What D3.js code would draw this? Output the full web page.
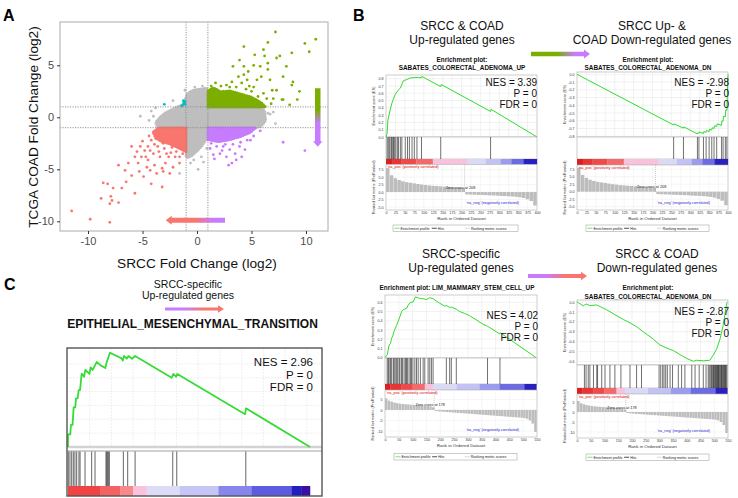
<!DOCTYPE html>
<html>
<head>
<meta charset="utf-8">
<script src="https://cdnjs.cloudflare.com/ajax/libs/d3/7.8.5/d3.min.js"></script>
<style>
body { margin: 0; background: #fff; }
svg { display: block; font-family: 'Liberation Sans', Arial, Helvetica, sans-serif; }
</style>
</head>
<body>
<svg id="fig" width="738" height="498"></svg>
<script>
// ---------- panel A data (log2 fold changes) ----------
var aTicksX = [-10, -5, 0, 5, 10];
var aTicksY = [-10, -5, 0, 5];
var aCut = [-1, 1];
// outlines of the dense cores of the cloud
var grayCore = [[-3.6,-1.0],[-3.8,-0.5],[-3.4,0.0],[-2.9,0.45],[-2.3,0.75],[-1.7,1.05],[-1.25,1.25],[-1.05,1.8],[-0.9,2.25],[-0.5,2.55],[0.1,2.7],[0.9,2.8],[1.0,1.0],[5.6,1.0],[6.2,0.6],[6.3,-0.3],[5.9,-0.85],[5.4,-1.0],[1.0,-1.0],[0.8,-2.2],[0.4,-2.8],[0.0,-3.25],[-0.5,-3.7],[-0.85,-3.9],[-1.0,-3.7],[-1.0,-1.0]];
var redCore = [[-1.0,-1.0],[-3.5,-1.0],[-4.0,-1.4],[-3.8,-2.0],[-3.2,-2.35],[-2.5,-2.55],[-1.8,-2.9],[-1.0,-3.3]];
var greenCore = [[1.0,1.0],[1.0,2.55],[1.5,2.85],[2.2,2.45],[3.0,2.55],[4.0,2.25],[5.0,1.95],[5.9,1.4],[6.3,1.0]];
var purpleCore = [[1.0,-1.0],[1.0,-2.15],[2.0,-2.35],[3.0,-2.15],[4.0,-1.85],[4.9,-1.45],[5.4,-1.0]];
var grayPts = [[-5.2,0.1],[-4.2,0.6],[-4.0,0.1],[-1.6,-5.4],[0.1,-5.0],[-0.6,-4.4],[-0.3,-4.1],[0.4,-3.8],[0.6,-4.3],[-1.1,2.6],[6.1,0.7],[6.5,0.4],[6.2,-0.1],[7.2,-0.6],[6.7,0.3],[5.5,0.9],[7.0,0.5],[5.8,-0.5],[-0.8,-3.2],[0.9,-3.0],[-3.8,0.9],[-2.2,1.6],[-4.4,-0.3],[-0.2,2.9],[0.5,3.0]];
var redPts = [[-11.5,-9.0],[-9.8,-9.8],[-8.0,-10.1],[-8.8,-7.8],[-8.6,-6.3],[-8.2,-6.4],[-7.9,-7.6],[-8.0,-8.3],[-7.8,-8.0],[-7.2,-8.2],[-7.7,-6.8],[-7.2,-4.6],[-6.9,-6.8],[-6.5,-6.2],[-6.6,-5.1],[-6.3,-4.4],[-6.0,-5.6],[-5.7,-7.3],[-5.7,-3.8],[-5.5,-3.3],[-5.4,-4.4],[-5.3,-5.2],[-5.2,-2.8],[-5.1,-3.8],[-4.9,-5.7],[-4.6,-4.8],[-4.5,-4.1],[-4.3,-5.1],[-4.2,-6.4],[-4.0,-3.5],[-3.9,-4.6],[-3.7,-5.4],[-3.6,-2.8],[-3.4,-3.8],[-3.2,-4.9],[-3.1,-5.2],[-2.9,-4.4],[-2.8,-3.5],[-2.6,-3.8],[-2.5,-5.4],[-2.2,-4.8],[-2.0,-3.8],[-1.9,-3.3],[-1.6,-4.4],[-1.3,-3.5],[-3.2,-6.7],[-4.7,-3.8],[-4.5,-2.8],[-3.1,-2.5],[-3.7,-1.9],[-4.0,-1.5],[-4.2,-2.2],[-6.0,-2.8],[-4.8,-3.2],[-3.0,-3.0],[-2.3,-2.9],[-1.5,-2.8],[-1.2,-3.0],[-3.9,-2.6],[-2.7,-2.1],[-4.4,-1.8],[-3.3,-1.6],[-1.6,-3.8],[-2.4,-3.4],[-5.0,-2.3],[-4.3,-3.2],[-3.5,-3.3]];
var greenPts = [[7.2,8.2],[6.5,7.2],[6.1,6.5],[6.2,5.9],[5.3,6.0],[5.2,5.0],[6.5,5.2],[6.5,4.6],[7.3,5.7],[6.7,3.6],[6.9,2.6],[7.3,2.6],[7.8,1.7],[7.9,3.9],[8.2,4.9],[8.8,3.4],[9.4,2.5],[8.7,3.1],[8.7,6.2],[9.9,7.1],[10.3,6.3],[10.9,7.5],[7.6,5.9],[5.8,4.9],[5.9,3.9],[5.5,3.6],[5.2,2.9],[5.0,2.5],[6.1,2.3],[6.4,1.8],[5.6,2.0],[7.0,1.8],[9.2,1.7],[7.9,1.7],[4.3,6.8],[3.9,5.5],[3.3,4.9],[4.3,4.9],[3.8,3.9],[4.3,4.1],[4.7,4.4],[3.2,3.4],[1.7,3.3],[1.8,2.6],[2.4,2.5],[3.6,2.9],[4.1,3.3],[4.6,3.6],[2.7,3.1],[4.5,2.7],[3.0,2.9],[2.2,3.0],[1.3,3.0],[5.5,1.6],[6.8,1.3],[8.5,1.2],[4.8,3.0]];
var purplePts = [[1.2,-3.0],[1.8,-2.8],[1.5,-3.6],[2.1,-3.5],[2.7,-3.8],[3.0,-3.1],[3.5,-3.5],[3.2,-4.4],[2.9,-4.6],[3.6,-4.1],[4.1,-3.8],[4.4,-3.1],[3.9,-2.8],[2.4,-2.8],[4.6,-2.2],[5.8,-1.3],[7.9,-2.4],[9.9,-3.2],[4.9,-2.2],[1.3,-2.5],[2.3,-3.2],[3.3,-2.6],[5.2,-1.8],[1.6,-4.0],[2.6,-2.6],[4.0,-2.4]];
var cyanPts = [[-3.0,1.25],[-1.3,1.2],[-1.2,1.4],[-1.1,1.5],[-1.25,1.6],[-1.1,1.25],[-1.4,1.1]];

// ---------- GSEA data ----------
var rank400 = [0,25,50,75,100,125,150,175,200,225,250,275,300,325,350,375,400];
var rank550 = [0,50,100,150,200,250,300,350,400,450,500,550];
var esTicksB1 = [0,0.1,0.2,0.3,0.4,0.5,0.6,0.7,0.8];
var esTicksB2 = [0,-0.1,-0.2,-0.3,-0.4,-0.5,-0.6,-0.7,-0.8];
var esTicksB3 = [0,0.1,0.2,0.3,0.4,0.5,0.6];
var esTicksB4 = [0,-0.1,-0.2,-0.3,-0.4,-0.5,-0.6];
var metTicks400 = [-5,-2.5,0,2.5,5,7.5];
var metTicks550 = [-10,-5,0,5];

// ranked list metric, one value per 10 ranks
var metricUp = [8.0,5.6,4.6,4.0,3.6,3.3,3.1,2.9,2.7,2.5,2.35,2.2,2.1,2.0,1.9,1.8,1.7,1.6,1.5,1.4,1.3,-0.8,-0.85,-0.9,-0.95,-1.0,-1.05,-1.1,-1.15,-1.2,-1.3,-1.35,-1.4,-1.5,-1.6,-1.75,-2.0,-2.4,-3.0,-4.5];
var metricStem = [5.5,4.4,3.9,3.5,3.2,3.0,2.8,2.7,2.6,2.5,2.4,2.3,2.2,2.1,2.0,1.9,1.7,1.3,-0.5,-0.7,-0.8,-0.9,-1.0,-1.1,-1.2,-1.3,-1.4,-1.5,-1.6,-1.7,-1.8,-1.9,-2.0,-2.1,-2.2,-2.3,-2.4,-2.5,-2.6,-2.7,-2.8,-2.9,-3.0,-3.1,-3.2,-3.3,-3.4,-3.5,-3.6,-3.7,-3.9,-4.2,-5.0,-6.5,-10.5];

// colour bar of the ranked list: [from rank, to rank, colour]
var barUp = [[0,16,'#dc2020'],[16,40,'#e83434'],[40,80,'#ef4a4a'],[80,124,'#f46a6a'],[124,216,'#f9c2dc'],[216,264,'#dadaf5'],[264,304,'#c2c2f5'],[304,332,'#9c9cef'],[332,364,'#6c6ce2'],[364,400,'#2a1fbf']];
var barStem = [[0,20,'#dc2020'],[20,60,'#e83434'],[60,100,'#ef4a4a'],[100,144,'#f46a6a'],[144,175,'#f9c2dc'],[175,259,'#dadaf5'],[259,342,'#c2c2f5'],[342,414,'#9c9cef'],[414,504,'#6c6ce2'],[504,548,'#2a1fbf']];
var barC = [[0,29.5,'#f04444'],[29.5,48,'#f46262'],[48,60,'#f68a8a'],[60,72.5,'#fbc2dc'],[72.5,103,'#dcdcf6'],[103,138.6,'#c6c6f6'],[138.6,169.3,'#8686ee'],[169.3,206,'#5c5ce0'],[206,215.3,'#2020c0'],[215.3,223,'#3a10a0']];

var b1Es = [[0,0],[3,0.05],[5,0.23],[11,0.37],[16,0.47],[24,0.58],[32,0.64],[38,0.67],[46,0.77],[56,0.79],[64,0.81],[75,0.815],[86,0.815],[94,0.812],[95,0.83],[145,0.69],[146,0.72],[277,0.35],[278,0.38],[400,0]];
var b1Hits = [3,6,9,13,15,18,20,23,26,30,33,38,42,51,57,62,69,75,82,94,145,277];
var b2Es = [[0,0],[256,-0.655],[257,-0.64],[282,-0.695],[283,-0.68],[319,-0.77],[320,-0.755],[323,-0.76],[324,-0.745],[335,-0.765],[336,-0.74],[342,-0.75],[343,-0.725],[350,-0.74],[351,-0.71],[357,-0.72],[358,-0.69],[363,-0.70],[364,-0.665],[370,-0.675],[371,-0.64],[383,-0.66],[384,-0.60],[387,-0.605],[388,-0.54],[393,-0.55],[394,-0.46],[397,-0.465],[398,-0.30],[400,0]];
var b2Hits = [256,282,319,323,335,342,350,357,363,370,383,387,393,397];
var b3Es = [[0,0],[8,0.03],[15,0.135],[20,0.155],[24,0.21],[28,0.235],[32,0.28],[42,0.35],[54,0.445],[60,0.5],[66,0.52],[78,0.535],[84,0.57],[90,0.595],[102,0.605],[110,0.66],[120,0.65],[128,0.64],[138,0.64],[150,0.63],[162,0.65],[174,0.64],[186,0.615],[198,0.59],[216,0.56],[222,0.565],[234,0.545],[240,0.55],[258,0.525],[270,0.5],[288,0.48],[306,0.455],[330,0.41],[353,0.365],[371,0.34],[377,0.33],[416,0.255],[417,0.27],[546,0]];
var b3Hits = [8,12,15,20,24,30,33,37,42,46,51,54,60,63,69,74,78,81,87,92,96,101,108,114,120,128,138,144,156,162,168,174,222,234,240,258,371,416];
var b4Es = [[0,0],[5,-0.007],[23,-0.04],[27,-0.03],[35,-0.02],[47,-0.036],[72,-0.03],[84,-0.046],[108,-0.079],[132,-0.118],[169,-0.177],[193,-0.21],[217,-0.249],[241,-0.30],[278,-0.374],[302,-0.433],[327,-0.465],[351,-0.49],[375,-0.53],[400,-0.57],[424,-0.597],[436,-0.587],[460,-0.593],[484,-0.587],[496,-0.537],[509,-0.472],[521,-0.374],[533,-0.226],[545,-0.013],[548,0]];
var b4Hits = [27,33,41,47,60,72,75,90,102,120,138,160,193,217,235,299,305,312,317,323,329,339,348,369,381,393,418,430,445,460,470,478,482,487,490,494,497,499,502,504,507,509,512,514,516,518,521,524,526,528,531,533,536,538,541,543,546];

var cEs = [[0,0],[0,0.091],[2.1,0.091],[2.7,0.159],[4.2,0.159],[5.2,0.286],[6.7,0.286],[7.4,0.351],[8.9,0.351],[9.8,0.411],[11.1,0.411],[12.0,0.483],[12.6,0.53],[14.8,0.507],[16.0,0.556],[19.7,0.527],[20.9,0.575],[22.7,0.556],[26.4,0.613],[30.1,0.589],[34.4,0.57],[35.6,0.611],[38.7,0.68],[49.4,0.64],[50.4,0.623],[51.6,0.657],[54.1,0.637],[55.6,0.657],[59.0,0.637],[61.8,0.657],[95.5,0.5],[97.1,0.527],[99.5,0.507],[100.7,0.527],[163.1,0.236],[164.0,0.279],[223,0]];
var cHits = [0.3,1.8,3.4,4.9,6.4,8.0,10.1,11.1,15.7,21.8,24.9,35.0,35.6,36.3,37.2,38.1,51.0,55.0,61.8,96.5,100.2,163.8];
var cGridX = [20,40,60,80,100,120,140,160,180,200,220];
var cGridY = [0.1,0.2,0.3,0.4,0.5,0.6];

var legendItems = [['Enrichment profile','#33dd33'],['Hits','#000'],['Ranking metric scores','#c8c8c8']];

var svg = d3.select('#fig');
var defs = svg.append('defs');
var fmt1 = function(d) { return d.toFixed(1); };
var fmt0 = function(d) { return String(d); };

// gradient arrow from (x0,y0) to tip (x1,y1)
var gradId = 0;
var arrow = function(x0, y0, x1, y1, thick, headW, headL, stops) {
    var len = Math.hypot(x1 - x0, y1 - y0);
    var ang = Math.atan2(y1 - y0, x1 - x0) * 180 / Math.PI;
    var id = 'ag' + (gradId++);
    var lg = defs.append('linearGradient').attr('id', id).attr('x1', 0).attr('y1', 0).attr('x2', 1).attr('y2', 0);
    stops.forEach(function(s) { lg.append('stop').attr('offset', s[0]).attr('stop-color', s[1]); });
    var t = thick / 2, h = headW / 2, b = len - headL;
    var pts = [[0,-t],[b,-t],[b,-h],[len,0],[b,h],[b,t],[0,t]];
    svg.append('path').attr('d', 'M' + pts.join('L') + 'Z')
        .attr('transform', 'translate(' + x0 + ',' + y0 + ') rotate(' + ang + ')')
        .attr('fill', 'url(#' + id + ')');
};
var RED = '#f8766d', GREEN = '#7cae00', PURPLE = '#c77cff', CYAN = '#00bfc4', GRAY = '#bebebe';

// ---------- panel A ----------
var ax = d3.scaleLinear().domain([-12.57, 12.02]).range([60, 328]);
var ay = d3.scaleLinear().domain([-10.93, 9.16]).range([231, 22]);
var pA = svg.append('g');
defs.append('clipPath').attr('id', 'clipA').append('rect').attr('x', 60).attr('y', 22).attr('width', 268).attr('height', 209);
var pts = pA.append('g').attr('clip-path', 'url(#clipA)');
var outline = d3.line().x(function(d) { return ax(d[0]); }).y(function(d) { return ay(d[1]); }).curve(d3.curveLinearClosed);
var cloud = function(data, color) {
    pts.append('path').attr('d', outline(data)).attr('fill', color);
    // speckled rim so the core reads as packed dots
    pts.append('path').attr('d', outline(data)).attr('fill', 'none').attr('stroke', color)
        .attr('stroke-width', 3).attr('stroke-linecap', 'round').attr('stroke-dasharray', '0,2.4');
};
var dots = function(data, color) {
    pts.append('g').selectAll('circle').data(data).join('circle')
        .attr('cx', function(d) { return ax(d[0]); }).attr('cy', function(d) { return ay(d[1]); })
        .attr('r', 1.4).attr('fill', color);
};
cloud(grayCore, GRAY); dots(grayPts, GRAY);
cloud(redCore, RED); dots(redPts, RED);
cloud(greenCore, GREEN); dots(greenPts, GREEN);
cloud(purpleCore, PURPLE); dots(purplePts, PURPLE);
dots(cyanPts, CYAN);
aCut.forEach(function(c) {
    pA.append('line').attr('x1', ax(c)).attr('x2', ax(c)).attr('y1', 22).attr('y2', 231)
        .attr('stroke', '#888').attr('stroke-width', 0.9).attr('stroke-dasharray', '1.2,1.3');
    pA.append('line').attr('x1', 60).attr('x2', 328).attr('y1', ay(c)).attr('y2', ay(c))
        .attr('stroke', '#888').attr('stroke-width', 0.9).attr('stroke-dasharray', '1.2,1.3');
});
pA.append('rect').attr('x', 60).attr('y', 22).attr('width', 268).attr('height', 209)
    .attr('fill', 'none').attr('stroke', '#b3b3b3').attr('stroke-width', 1.1);
var styleAxis = function(g, size, color) {
    g.select('.domain').remove();
    g.attr('font-family', null).attr('font-size', size);
    g.selectAll('text').attr('fill', color);
    g.selectAll('line').attr('stroke', '#333');
};
pA.append('g').attr('transform', 'translate(0,231)')
    .call(d3.axisBottom(ax).tickValues(aTicksX).tickSize(3).tickPadding(3).tickFormat(fmt0))
    .call(function(g) { styleAxis(g, 11, '#4d4d4d'); });
pA.append('g').attr('transform', 'translate(60,0)')
    .call(d3.axisLeft(ay).tickValues(aTicksY).tickSize(3).tickPadding(3).tickFormat(fmt0))
    .call(function(g) { styleAxis(g, 11, '#4d4d4d'); });
pA.append('text').attr('x', 197).attr('y', 268).attr('text-anchor', 'middle').attr('font-size', 13.7).attr('fill', '#111').text('SRCC Fold Change (log2)');
pA.append('text').attr('transform', 'translate(38,127) rotate(-90)').attr('text-anchor', 'middle').attr('font-size', 13.7).attr('fill', '#111').text('TCGA COAD Fold Change (log2)');
arrow(ax(2.57), ay(-9.9), ax(-2.87), ay(-9.9), 5, 9, 6, [[0, PURPLE], [0.2, PURPLE], [0.5, RED], [1, RED]]);
arrow(ax(11.08), ay(2.79), ax(11.08), ay(-2.83), 5.5, 9.5, 5.5, [[0, GREEN], [0.37, GREEN], [0.6, PURPLE], [1, PURPLE]]);

// ---------- panel B ----------
var gsea = function(o) {
    var x = d3.scaleLinear().domain([0, o.rankMax]).range([o.x0, o.x1]);
    var y = d3.scaleLinear().domain(o.esDomain).range([o.esBot, o.esTop]);
    var my = d3.scaleLinear().domain(o.metDomain).range([o.metBot, o.barBot]);
    var w = o.x1 - o.x0;
    return {
        draw: function(elem) {
            var g = elem.append('g');
            o.title.forEach(function(t, i) {
                g.append('text').attr('x', o.titleX).attr('y', o.titleY[i]).attr('text-anchor', 'middle')
                    .attr('font-size', 12).attr('fill', '#111').text(t);
            });
            o.setName.forEach(function(t, i) {
                g.append('text').attr('x', o.nameX).attr('y', o.nameY[i]).attr('text-anchor', 'middle')
                    .attr('font-size', 6.4).attr('font-weight', 'bold').attr('fill', '#111').text(t);
            });
            // enrichment score panel
            g.append('rect').attr('x', o.x0).attr('y', o.esTop).attr('width', w).attr('height', o.esBot - o.esTop)
                .attr('fill', '#fff').attr('stroke', '#aaa').attr('stroke-width', 0.6);
            g.append('g').selectAll('line').data(o.rankTicks.slice(1, -1)).join('line')
                .attr('x1', x).attr('x2', x).attr('y1', o.esTop).attr('y2', o.esBot)
                .attr('stroke', '#e4e4e4').attr('stroke-width', 0.5);
            g.append('g').selectAll('line').data(o.esTicks).join('line')
                .attr('x1', o.x0).attr('x2', o.x1).attr('y1', y).attr('y2', y)
                .attr('stroke', '#e4e4e4').attr('stroke-width', 0.5);
            g.append('path').datum(o.es)
                .attr('d', d3.line().x(function(d) { return x(d[0]); }).y(function(d) { return y(d[1]); }))
                .attr('fill', 'none').attr('stroke', '#2fdc2f').attr('stroke-width', 1);
            g.append('g').attr('transform', 'translate(' + (o.x0 - 1) + ',0)')
                .call(d3.axisLeft(y).tickValues(o.esTicks).tickSize(0).tickPadding(1.5).tickFormat(fmt1))
                .call(function(a) { styleAxis(a, 3.6, '#333'); });
            // hits
            g.append('rect').attr('x', o.x0).attr('y', o.esBot).attr('width', w).attr('height', o.hitBot - o.esBot)
                .attr('fill', '#fff').attr('stroke', '#aaa').attr('stroke-width', 0.6);
            g.append('g').selectAll('line').data(o.hits).join('line')
                .attr('x1', x).attr('x2', x).attr('y1', o.esBot).attr('y2', o.hitBot)
                .attr('stroke', '#111').attr('stroke-width', 0.6);
            // colour bar
            g.append('g').selectAll('rect').data(o.bar).join('rect')
                .attr('x', function(d) { return x(d[0]); }).attr('width', function(d) { return x(d[1]) - x(d[0]) + 0.2; })
                .attr('y', o.hitBot).attr('height', o.barBot - o.hitBot).attr('fill', function(d) { return d[2]; });
            // ranked list metric
            g.append('rect').attr('x', o.x0).attr('y', o.barBot).attr('width', w).attr('height', o.metBot - o.barBot)
                .attr('fill', '#fff').attr('stroke', '#aaa').attr('stroke-width', 0.6);
            g.append('g').selectAll('line').data(o.rankTicks.slice(1, -1)).join('line')
                .attr('x1', x).attr('x2', x).attr('y1', o.barBot).attr('y2', o.metBot)
                .attr('stroke', '#ececec').attr('stroke-width', 0.5);
            g.append('g').selectAll('line').data(o.metTicks).join('line')
                .attr('x1', o.x0).attr('x2', o.x1).attr('y1', my).attr('y2', my)
                .attr('stroke', '#ececec').attr('stroke-width', 0.5);
            g.append('g').selectAll('rect').data(o.metric).join('rect')
                .attr('x', function(d, i) { return x(i * 10); })
                .attr('width', function(d, i) { return x((i + 1) * 10) - x(i * 10) - 0.25; })
                .attr('y', function(d) { return my(Math.max(d, 0)); })
                .attr('height', function(d) { return Math.abs(my(d) - my(0)); })
                .attr('fill', '#bdbdbd');
            g.append('line').attr('x1', x(o.zero)).attr('x2', x(o.zero)).attr('y1', o.barBot).attr('y2', my(0))
                .attr('stroke', '#999').attr('stroke-width', 0.5).attr('stroke-dasharray', '1,1');
            g.append('text').attr('x', x(o.zero) - 4).attr('y', my(0) - 3.5).attr('text-anchor', 'middle')
                .attr('font-size', 3.8).attr('fill', '#222').text('Zero cross at ' + o.zero);
            g.append('text').attr('x', o.x0 + 1.5).attr('y', o.barBot + 3.6)
                .attr('font-size', 3.8).attr('fill', '#e00000').text("'na_pos' (positively correlated)");
            g.append('text').attr('x', o.x1 - 18).attr('y', o.metBot - 6).attr('text-anchor', 'end')
                .attr('font-size', 3.8).attr('fill', '#2424d0').text("'na_neg' (negatively correlated)");
            g.append('g').attr('transform', 'translate(' + (o.x0 - 1) + ',0)')
                .call(d3.axisLeft(my).tickValues(o.metTicks).tickSize(0).tickPadding(1.5).tickFormat(o.metFmt))
                .call(function(a) { styleAxis(a, 3.6, '#333'); });
            g.append('g').attr('transform', 'translate(0,' + o.metBot + ')')
                .call(d3.axisBottom(x).tickValues(o.rankTicks).tickSize(0).tickPadding(1.5).tickFormat(fmt0))
                .call(function(a) { styleAxis(a, 3.6, '#333'); });
            g.append('text').attr('x', (o.x0 + o.x1) / 2).attr('y', o.metBot + 10).attr('text-anchor', 'middle')
                .attr('font-size', 4.4).attr('fill', '#333').text('Rank in Ordered Dataset');
            g.append('text').attr('transform', 'translate(' + (o.x0 - 11) + ',' + ((o.esTop + o.esBot) / 2) + ') rotate(-90)')
                .attr('text-anchor', 'middle').attr('font-size', 3.9).attr('fill', '#333').text('Enrichment score (ES)');
            g.append('text').attr('transform', 'translate(' + (o.x0 - 11) + ',' + ((o.barBot + o.metBot) / 2) + ') rotate(-90)')
                .attr('text-anchor', 'middle').attr('font-size', 3.9).attr('fill', '#333').text('Ranked list metric (PreRanked)');
            // legend
            var lw = o.legX1 - o.legX0;
            var slots = [0.012, 0.31, 0.575];
            g.append('rect').attr('x', o.legX0).attr('y', o.legY).attr('width', lw).attr('height', 6.5)
                .attr('fill', '#fff').attr('stroke', '#999').attr('stroke-width', 0.5);
            var li = g.append('g').selectAll('g').data(legendItems).join('g')
                .attr('transform', function(d, i) { return 'translate(' + (o.legX0 + slots[i] * lw) + ',' + (o.legY + 3.25) + ')'; });
            li.append('line').attr('x1', 0).attr('x2', 5).attr('stroke', function(d) { return d[1]; }).attr('stroke-width', 0.7);
            li.append('text').attr('x', 6).attr('y', 1.3).attr('font-size', 3.6).attr('fill', '#222').text(function(d) { return d[0]; });
            // statistics
            o.stats.forEach(function(t, i) {
                g.append('text').attr('x', o.statX).attr('y', o.statY + i * 11).attr('text-anchor', 'end')
                    .attr('font-size', 10).attr('fill', '#111').text(t);
            });
        }
    };
};

gsea({ x0: 386, x1: 537, esTop: 75, esBot: 137, hitBot: 159, barBot: 164.5, metBot: 210, rankMax: 400,
    esDomain: [0, 0.85], esTicks: esTicksB1, rankTicks: rank400, metDomain: [-6, 9.2], metTicks: metTicks400, metFmt: fmt1,
    es: b1Es, hits: b1Hits, metric: metricUp, bar: barUp, zero: 208,
    title: ['SRCC & COAD', 'Up-regulated genes'], titleX: 462, titleY: [29.5, 43.5],
    setName: ['Enrichment plot:', 'SABATES_COLORECTAL_ADENOMA_UP'], nameX: 462, nameY: [62, 69.5],
    stats: ['NES = 3.39', 'P = 0', 'FDR = 0'], statX: 537, statY: 85.5,
    legX0: 393, legX1: 518, legY: 225 }).draw(svg);

gsea({ x0: 577, x1: 728, esTop: 72, esBot: 137, hitBot: 159, barBot: 165, metBot: 210, rankMax: 400,
    esDomain: [-0.81, 0.03], esTicks: esTicksB2, rankTicks: rank400, metDomain: [-6.1, 8.9], metTicks: metTicks400, metFmt: fmt1,
    es: b2Es, hits: b2Hits, metric: metricUp, bar: barUp, zero: 208,
    title: ['SRCC Up- &', 'COAD Down-regulated genes'], titleX: 652, titleY: [29.5, 43.5],
    setName: ['Enrichment plot:', 'SABATES_COLORECTAL_ADENOMA_DN'], nameX: 648, nameY: [62, 69.5],
    stats: ['NES = -2.98', 'P = 0', 'FDR = 0'], statX: 729, statY: 85.5,
    legX0: 586, legX1: 709, legY: 225 }).draw(svg);

gsea({ x0: 385, x1: 537, esTop: 295, esBot: 358, hitBot: 384, barBot: 390, metBot: 437, rankMax: 550,
    esDomain: [-0.005, 0.68], esTicks: esTicksB3, rankTicks: rank550, metDomain: [-12.9, 9.5], metTicks: metTicks550, metFmt: fmt0,
    es: b3Es, hits: b3Hits, metric: metricStem, bar: barStem, zero: 178,
    title: ['SRCC-specific', 'Up-regulated genes'], titleX: 461, titleY: [258, 272],
    setName: ['Enrichment plot: LIM_MAMMARY_STEM_CELL_UP'], nameX: 457, nameY: [289.5],
    stats: ['NES = 4.02', 'P = 0', 'FDR = 0'], statX: 538, statY: 318.5,
    legX0: 394, legX1: 517, legY: 453.5 }).draw(svg);

gsea({ x0: 577, x1: 728, esTop: 300, esBot: 365, hitBot: 388, barBot: 394, metBot: 438, rankMax: 550,
    esDomain: [-0.635, 0.02], esTicks: esTicksB4, rankTicks: rank550, metDomain: [-13, 9], metTicks: metTicks550, metFmt: fmt0,
    es: b4Es, hits: b4Hits, metric: metricStem, bar: barStem, zero: 178,
    title: ['SRCC & COAD', 'Down-regulated genes'], titleX: 657, titleY: [258, 272],
    setName: ['Enrichment plot:', 'SABATES_COLORECTAL_ADENOMA_DN'], nameX: 648, nameY: [289.5, 298.5],
    stats: ['NES = -2.87', 'P = 0', 'FDR = 0'], statX: 729, statY: 314.5,
    legX0: 586, legX1: 709, legY: 454 }).draw(svg);

arrow(531, 54, 590, 54, 4.3, 9, 6, [[0, GREEN], [0.45, GREEN], [0.75, PURPLE], [1, PURPLE]]);
arrow(528, 276, 587, 276, 4.2, 8.5, 6, [[0, PURPLE], [0.3, PURPLE], [0.65, RED], [1, RED]]);

// ---------- panel C ----------
var cx = d3.scaleLinear().domain([0, 234]).range([68, 322]);
var cy = d3.scaleLinear().domain([0, 0.7]).range([447, 350]);
var pC = svg.append('g');
pC.append('text').attr('x', 188).attr('y', 287.5).attr('text-anchor', 'middle').attr('font-size', 10.5).attr('fill', '#111').text('SRCC-specific');
pC.append('text').attr('x', 188).attr('y', 298.5).attr('text-anchor', 'middle').attr('font-size', 10.5).attr('fill', '#111').text('Up-regulated genes');
pC.append('text').attr('x', 192.5).attr('y', 327.5).attr('text-anchor', 'middle').attr('font-size', 12).attr('font-weight', 'bold').attr('fill', '#111').text('EPITHELIAL_MESENCHYMAL_TRANSITION');
arrow(165, 309, 224, 309, 3.2, 7.5, 6, [[0, PURPLE], [0.33, PURPLE], [0.65, RED], [1, RED]]);
pC.append('rect').attr('x', 67).attr('y', 348).attr('width', 255).attr('height', 148).attr('fill', '#fff');
pC.append('g').selectAll('line').data(cGridX).join('line')
    .attr('x1', cx).attr('x2', cx).attr('y1', 348).attr('y2', 446)
    .attr('stroke', '#e6e6e6').attr('stroke-width', 0.6).attr('stroke-dasharray', '2,1');
pC.append('g').selectAll('line').data(cGridY).join('line')
    .attr('x1', 67).attr('x2', 322).attr('y1', cy).attr('y2', cy)
    .attr('stroke', '#e6e6e6').attr('stroke-width', 0.6).attr('stroke-dasharray', '2,1');
pC.append('line').attr('x1', 67).attr('x2', 322).attr('y1', cy(0)).attr('y2', cy(0)).attr('stroke', '#d2d2d2').attr('stroke-width', 2.4);
pC.append('line').attr('x1', 67).attr('x2', 322).attr('y1', 451).attr('y2', 451).attr('stroke', '#888').attr('stroke-width', 0.8);
pC.append('path').datum(cEs)
    .attr('d', d3.line().x(function(d) { return cx(d[0]); }).y(function(d) { return cy(d[1]); }))
    .attr('fill', 'none').attr('stroke', '#36dc36').attr('stroke-width', 1.8).attr('stroke-linejoin', 'round');
pC.append('g').selectAll('line').data(cHits).join('line')
    .attr('x1', cx).attr('x2', cx).attr('y1', 451.5).attr('y2', 486)
    .attr('stroke', '#555').attr('stroke-width', 0.9);
pC.append('g').selectAll('rect').data(barC).join('rect')
    .attr('x', function(d) { return cx(d[0]); }).attr('width', function(d) { return cx(d[1]) - cx(d[0]) + 0.2; })
    .attr('y', 486).attr('height', 10).attr('fill', function(d) { return d[2]; });
['NES = 2.96', 'P = 0', 'FDR = 0'].forEach(function(t, i) {
    pC.append('text').attr('x', 313).attr('y', 366 + i * 12.5).attr('text-anchor', 'end').attr('font-size', 11.5).attr('fill', '#111').text(t);
});
pC.append('rect').attr('x', 67).attr('y', 348).attr('width', 255).attr('height', 148)
    .attr('fill', 'none').attr('stroke', '#555').attr('stroke-width', 1.4);

// panel letters
[['A', 3, 21], ['B', 353, 21], ['C', 4, 290]].forEach(function(l) {
    svg.append('text').attr('x', l[1]).attr('y', l[2]).attr('font-size', 16).attr('font-weight', 'bold').attr('fill', '#000').text(l[0]);
});
</script>
</body>
</html>
